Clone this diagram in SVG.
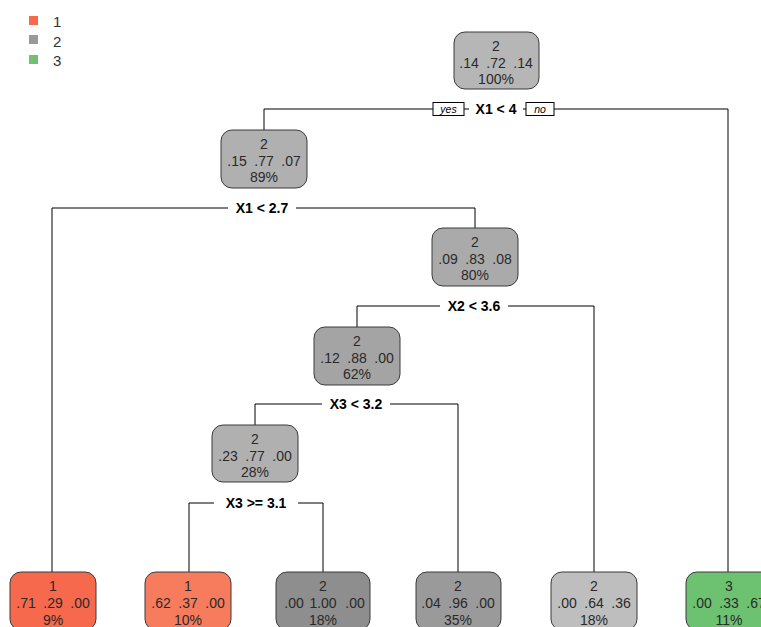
<svg xmlns="http://www.w3.org/2000/svg" width="761" height="627" viewBox="0 0 761 627">
<style>
.n rect{stroke:#3a3a3a;stroke-width:1}
.n text{font-family:"Liberation Sans",Arial,sans-serif;font-size:14px;fill:#2a2a2a;text-anchor:middle}
.e{stroke:#000;stroke-width:1;fill:none}
.lb{font-family:"Liberation Sans",Arial,sans-serif;font-size:14px;font-weight:bold;fill:#000;text-anchor:middle}
.bg{fill:#fff}
.yn rect{fill:#fff;stroke:#000;stroke-width:1}
.yn text{font-family:"Liberation Sans",Arial,sans-serif;font-size:10.5px;font-style:italic;fill:#000;text-anchor:middle}
.lg{font-family:"Liberation Sans",Arial,sans-serif;font-size:15px;fill:#333}
</style>
<rect width="761" height="627" fill="#fff"/>
<g id="legend">
<rect x="29" y="16" width="9" height="9" fill="#f6694d"/>
<rect x="29" y="35" width="9" height="9" fill="#999"/>
<rect x="29" y="55" width="9" height="9" fill="#70c270"/>
<text class="lg" x="53" y="27">1</text>
<text class="lg" x="53" y="47">2</text>
<text class="lg" x="53" y="66">3</text>
</g>
<g id="connectors">
<path class="e" d="M264,130 V109 H728 V572"/>
<path class="e" d="M52,572 V208 H475 V228"/>
<path class="e" d="M357,327 V306 H594 V572"/>
<path class="e" d="M255,425 V404 H458 V572"/>
<path class="e" d="M189,572 V503 H323 V572"/>
<rect class="bg" x="469" y="101" width="54" height="16"/>
<text class="lb" x="496" y="114">X1 &lt; 4</text>
<g class="yn"><rect x="433" y="102.5" width="31" height="13"/><text x="448.5" y="112.5">yes</text>
<rect x="526" y="102.5" width="28" height="13"/><text x="540" y="112.5">no</text></g>
<rect class="bg" x="228" y="200" width="68" height="16"/>
<text class="lb" x="262" y="213">X1 &lt; 2.7</text>
<rect class="bg" x="440" y="298" width="68" height="16"/>
<text class="lb" x="474" y="311">X2 &lt; 3.6</text>
<rect class="bg" x="322" y="396" width="68" height="16"/>
<text class="lb" x="356" y="409">X3 &lt; 3.2</text>
<rect class="bg" x="214" y="495" width="84" height="16"/>
<text class="lb" x="256" y="508">X3 &gt;= 3.1</text>
</g>
<g id="n1" class="n"><rect x="454" y="32" width="85" height="57" rx="11" fill="#b6b6b6"/>
<text x="496" y="51">2</text><text x="469" y="68">.14</text><text x="496" y="68">.72</text><text x="523" y="68">.14</text><text x="496" y="84">100%</text></g>
<g id="n2" class="n"><rect x="221" y="130" width="86" height="58" rx="11" fill="#b0b0b0"/>
<text x="264" y="149">2</text><text x="237" y="166">.15</text><text x="264" y="166">.77</text><text x="291" y="166">.07</text><text x="264" y="182">89%</text></g>
<g id="n3" class="n"><rect x="432" y="228" width="86" height="58" rx="11" fill="#aaaaaa"/>
<text x="475" y="247">2</text><text x="448" y="264">.09</text><text x="475" y="264">.83</text><text x="502" y="264">.08</text><text x="475" y="280">80%</text></g>
<g id="n4" class="n"><rect x="314" y="327" width="86" height="58" rx="11" fill="#a4a4a4"/>
<text x="357" y="346">2</text><text x="330" y="363">.12</text><text x="357" y="363">.88</text><text x="384" y="363">.00</text><text x="357" y="379">62%</text></g>
<g id="n5" class="n"><rect x="212" y="425" width="86" height="57" rx="11" fill="#b0b0b0"/>
<text x="255" y="444">2</text><text x="228" y="461">.23</text><text x="255" y="461">.77</text><text x="282" y="461">.00</text><text x="255" y="477">28%</text></g>
<g id="l1" class="n"><rect x="10" y="572" width="86" height="58" rx="11" fill="#f6694d"/>
<text x="53" y="591">1</text><text x="26" y="608">.71</text><text x="53" y="608">.29</text><text x="80" y="608">.00</text><text x="53" y="625">9%</text></g>
<g id="l2" class="n"><rect x="145" y="572" width="86" height="58" rx="11" fill="#f77b5d"/>
<text x="188" y="591">1</text><text x="161" y="608">.62</text><text x="188" y="608">.37</text><text x="215" y="608">.00</text><text x="188" y="625">10%</text></g>
<g id="l3" class="n"><rect x="276" y="572" width="94" height="58" rx="11" fill="#8e8e8e"/>
<text x="323" y="591">2</text><text x="294" y="608">.00</text><text x="323" y="608">1.00</text><text x="355" y="608">.00</text><text x="323" y="625">18%</text></g>
<g id="l4" class="n"><rect x="416" y="572" width="85" height="58" rx="11" fill="#9a9a9a"/>
<text x="458" y="591">2</text><text x="431" y="608">.04</text><text x="458" y="608">.96</text><text x="485" y="608">.00</text><text x="458" y="625">35%</text></g>
<g id="l5" class="n"><rect x="551" y="572" width="86" height="58" rx="11" fill="#bebebe"/>
<text x="594" y="591">2</text><text x="567" y="608">.00</text><text x="594" y="608">.64</text><text x="621" y="608">.36</text><text x="594" y="625">18%</text></g>
<g id="l6" class="n"><rect x="686" y="572" width="86" height="58" rx="11" fill="#6cc270"/>
<text x="729" y="591">3</text><text x="702" y="608">.00</text><text x="729" y="608">.33</text><text x="756" y="608">.67</text><text x="729" y="625">11%</text></g>
</svg>
